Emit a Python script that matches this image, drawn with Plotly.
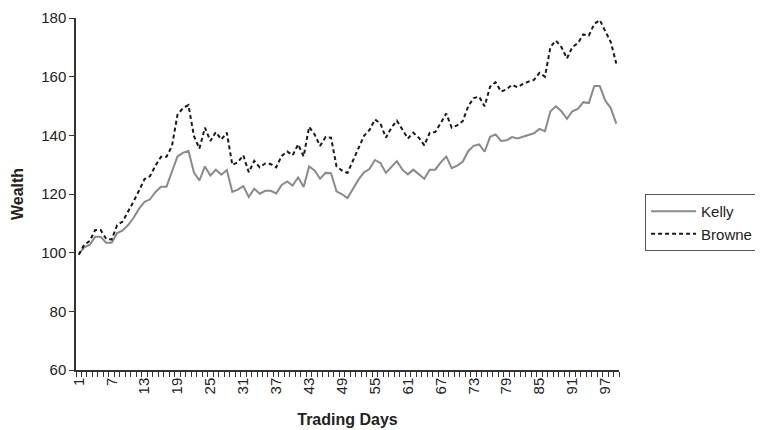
import plotly.graph_objects as go

days = list(range(1, 100))

kelly = [99.5, 101.8, 102.7, 105.4, 105.4, 103.4, 103.4, 106.7, 107.6, 109.4,
         111.9, 115.0, 117.3, 118.2, 120.7, 122.5, 122.5, 127.4, 132.8, 134.0,
         134.7, 127.4, 124.6, 129.4, 126.3, 128.3, 126.6, 128.2, 120.7, 121.5,
         122.7, 119.0, 121.8, 120.1, 121.1, 121.1, 120.2, 123.1, 124.3, 122.9,
         125.7, 122.4, 129.4, 128.0, 125.2, 127.2, 127.1, 120.9, 119.9, 118.6,
         121.8, 124.9, 127.4, 128.5, 131.6, 130.6, 127.2, 129.3, 131.2, 128.3,
         126.7, 128.3, 126.7, 125.2, 128.3, 128.3, 130.8, 132.8, 128.8, 129.7,
         131.0, 134.6, 136.4, 136.9, 134.4, 139.5, 140.3, 138.1, 138.3, 139.4,
         138.9, 139.5, 140.3, 140.7, 142.2, 141.4, 148.2, 149.9, 148.2, 145.6,
         148.2, 149.0, 151.3, 151.0, 156.8, 156.8, 151.8, 149.3, 144.0]

browne = [99.3, 102.7, 104.0, 107.7, 107.7, 104.7, 104.5, 109.4, 110.6, 113.9,
          117.5, 121.2, 125.1, 126.1, 129.7, 132.7, 132.7, 136.4, 147.0, 149.3,
          150.3, 139.8, 135.5, 142.6, 138.1, 141.1, 138.6, 140.9, 129.9, 130.8,
          133.2, 127.4, 131.3, 129.1, 130.4, 130.2, 129.1, 133.0, 134.5, 133.2,
          136.9, 132.8, 142.9, 140.3, 136.4, 139.4, 139.2, 129.4, 128.0, 127.2,
          131.3, 135.3, 139.8, 141.8, 145.4, 144.0, 139.2, 142.6, 145.0, 142.0,
          138.9, 140.9, 139.2, 136.6, 140.9, 141.1, 144.3, 147.4, 142.6, 143.4,
          144.8, 149.9, 152.7, 153.2, 149.9, 156.6, 158.1, 154.9, 155.7, 157.2,
          156.4, 157.5, 158.3, 158.9, 161.3, 160.0, 170.1, 172.3, 170.1, 166.2,
          170.1, 171.4, 174.4, 174.0, 178.0, 179.3, 175.5, 171.8, 164.5]

x_tick_vals = [1, 7, 13, 19, 25, 31, 37, 43, 49, 55, 61, 67, 73, 79, 85, 91, 97]
y_tick_vals = [60, 80, 100, 120, 140, 160, 180]

FONT = "Liberation Sans, Arial, sans-serif"
TXT = "#222222"

fig = go.Figure()
fig.add_trace(go.Scatter(x=days, y=kelly, mode="lines", name="Kelly",
                         line=dict(color="#8a8a8a", width=2)))
fig.add_trace(go.Scatter(x=days, y=browne, mode="lines", name="Browne",
                         line=dict(color="#1a1a1a", width=2, dash="4px,3px")))

# page has an 8px body margin, so the figure is sized 8px smaller
fig.update_layout(
    width=755, height=422,
    margin=dict(l=68, r=144, t=10, b=60, autoexpand=False),
    paper_bgcolor="white", plot_bgcolor="white",
    font=dict(family=FONT, size=15, color=TXT),
    showlegend=True,
    legend=dict(x=1.048, y=0.50, xanchor="left", yanchor="top",
                xref="paper", yref="paper",
                bordercolor="#555555", borderwidth=1, bgcolor="white",
                font=dict(family=FONT, size=15, color=TXT),
                tracegroupgap=0, itemwidth=45),
    xaxis=dict(
        range=[0.5, 99.5], automargin=False,
        tickmode="array", tickvals=x_tick_vals,
        ticktext=[str(v) for v in x_tick_vals],
        tickangle=-90, ticks="", ticklen=0,
        ticklabeloverflow="allow",
        showgrid=False, zeroline=False,
        showline=True, linecolor="#333333", linewidth=1.5,
        minor=dict(tick0=0.5, dtick=1, ticks="outside", ticklen=5,
                   tickcolor="#333333", tickwidth=1, showgrid=False),
        tickfont=dict(family=FONT, size=15, color=TXT),
        title=dict(text="<b>Trading Days</b>", standoff=20,
                   font=dict(family=FONT, size=16, color=TXT)),
    ),
    yaxis=dict(
        range=[60, 180], automargin=False,
        tickmode="array", tickvals=y_tick_vals,
        ticks="outside", ticklen=5, tickcolor="#333333", tickwidth=1,
        ticklabeloverflow="allow",
        showgrid=False, zeroline=False,
        showline=True, linecolor="#333333", linewidth=1.5,
        tickfont=dict(family=FONT, size=15, color=TXT),
        title=dict(text="<b>Wealth</b>", standoff=14,
                   font=dict(family=FONT, size=16, color=TXT)),
    ),
)

fig.write_html("out.html")
